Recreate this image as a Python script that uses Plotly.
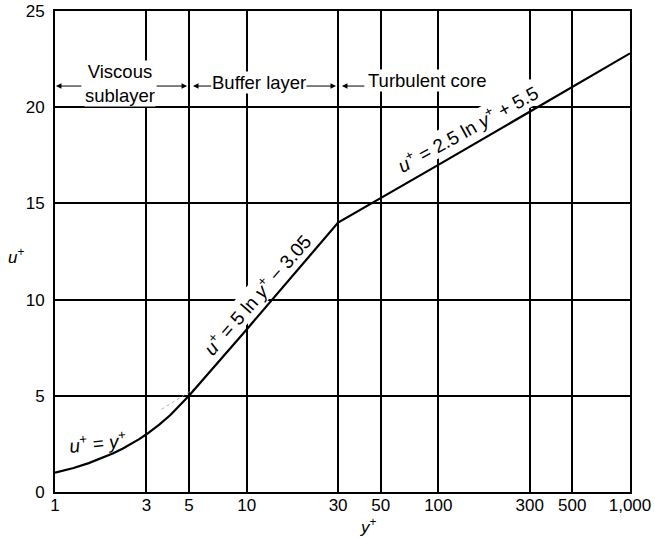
import math
import plotly.graph_objects as go

# ---- data ----
y_plus = [1, 1.25, 1.5, 1.75, 2, 2.25, 2.5, 2.75, 3, 3.5, 4, 4.5, 5, 10, 30, 100, 1000]
u_plus = [1, 1.25, 1.5, 1.75, 2, 2.25, 2.5, 2.75, 3, 3.5, 4, 4.5, 5, 8.45, 14.0, 17.0, 22.8]

# faint construction line near y+ = 5
aux_y = [3.6, 5.4]
aux_u = [4.3, 5.4]

x_tickvals = [1, 3, 5, 10, 30, 50, 100, 300, 500, 1000]
x_ticktext = ["1", "3", "5", "10", "30", "50", "100", "300", "500", "1,000"]
y_tickvals = [0, 5, 10, 15, 20, 25]

FONT = "Liberation Sans, Arial, sans-serif"
FS_TICK = 17
FS_TXT = 18.5
FS_EQ = 19

fig = go.Figure()
fig.add_trace(go.Scatter(x=aux_y, y=aux_u, mode="lines",
                         line=dict(color="#999999", width=0.8, dash="dot"),
                         hoverinfo="skip", showlegend=False))
fig.add_trace(go.Scatter(x=y_plus, y=u_plus, mode="lines",
                         line=dict(color="black", width=2.2),
                         showlegend=False))

L = math.log10
ann = []

def arrow(head, tail, u):
    ann.append(dict(x=L(head), y=u, ax=L(tail), ay=u, xref="x", yref="y",
                    axref="x", ayref="y", text="", showarrow=True,
                    arrowhead=2, arrowsize=1.1, arrowwidth=1, arrowcolor="black",
                    standoff=0, startstandoff=0))

def label(x, u, text, angle=0, bg="white", size=FS_TXT):
    ann.append(dict(x=L(x), y=u, xref="x", yref="y", text=text, showarrow=False,
                    textangle=angle, bgcolor=bg, borderpad=0,
                    xanchor="center", yanchor="middle",
                    font=dict(family=FONT, size=size, color="black")))

ARROW_U = 21.1
# region labels with arrows
label(10 ** 0.337, 21.25, "Viscous<br>sublayer")
arrow(10 ** 0.005, 10 ** 0.146, ARROW_U)
arrow(10 ** 0.689, 10 ** 0.522, ARROW_U)
arrow(10 ** 0.720, 10 ** 0.824, ARROW_U)
label(10 ** 1.064, 21.3, "Buffer layer")
arrow(10 ** 1.466, 10 ** 1.304, ARROW_U)
arrow(10 ** 1.497, 10 ** 1.622, ARROW_U)
label(10 ** 1.946, 21.4, "Turbulent core")

# equations
label(10 ** 0.224, 2.6, "<i>u</i><sup>+</sup> = <i>y</i><sup>+</sup>", angle=-6,
      bg="rgba(0,0,0,0)", size=FS_EQ)
label(10 ** 1.054, 10.27, "<i>u</i><sup>+</sup> = 5 ln <i>y</i><sup>+</sup> − 3.05",
      angle=-49, size=FS_EQ)
label(10 ** 2.154, 18.9, "<i>u</i><sup>+</sup> = 2.5 ln <i>y</i><sup>+</sup> + 5.5",
      angle=-29, size=FS_EQ)

# axis titles
ann.append(dict(x=-0.068, y=0.49, xref="paper", yref="paper", showarrow=False,
                xanchor="center", yanchor="middle",
                text="<i>u</i><sup>+</sup>", font=dict(family=FONT, size=FS_TICK, color="black")))
ann.append(dict(x=0.546, y=-0.07, xref="paper", yref="paper", showarrow=False,
                xanchor="center", yanchor="middle",
                text="<i>y</i><sup>+</sup>", font=dict(family=FONT, size=FS_TICK, color="black")))

axis_common = dict(showgrid=True, gridcolor="black", gridwidth=1.5,
                   showline=True, linecolor="black", linewidth=2, mirror=True,
                   ticks="", zeroline=False, automargin=False,
                   tickfont=dict(family=FONT, size=FS_TICK, color="black"))

fig.update_layout(
    width=655, height=538,
    margin=dict(l=55, r=25, t=11, b=46, autoexpand=False),
    paper_bgcolor="white", plot_bgcolor="white",
    font=dict(family=FONT, size=FS_TICK, color="black"),
    annotations=ann,
    xaxis=dict(type="log", range=[0, 3], tickvals=x_tickvals, ticktext=x_ticktext,
               ticklabelstandoff=-3, ticklabeloverflow="allow", **axis_common),
    yaxis=dict(range=[0, 25], tickvals=y_tickvals, ticklabelstandoff=5,
               ticklabeloverflow="allow", **axis_common),
)

fig.write_html("out.html", config={"displayModeBar": False},
               post_script="document.body.style.margin='0';document.body.style.overflow='hidden';")
